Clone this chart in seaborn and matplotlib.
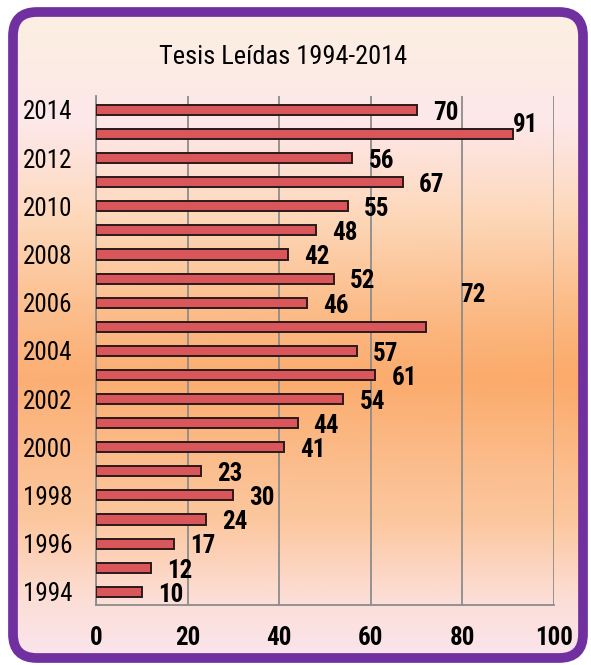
import numpy as np
import pandas as pd
import seaborn as sns
import matplotlib.pyplot as plt
from matplotlib.patches import FancyBboxPatch
from matplotlib import font_manager

# data
years = [2014, 2013, 2012, 2011, 2010, 2009, 2008, 2007, 2006, 2005, 2004,
         2003, 2002, 2001, 2000, 1999, 1998, 1997, 1996, 1995, 1994]
tesis = [70, 91, 56, 67, 55, 48, 42, 52, 46, 72, 57,
         61, 54, 44, 41, 23, 30, 24, 17, 12, 10]
x_ticks = [0, 20, 40, 60, 80, 100]
title = 'Tesis Leídas 1994-2014'

df = pd.DataFrame({'year': [str(y) for y in years], 'n': tesis})

sns.set_style('white')
names = {f.name for f in font_manager.fontManager.ttflist}
narrow = [n for n in ['Liberation Sans Narrow', 'Roboto Condensed', 'Open Sans Condensed']
          if n in names]
fam = narrow[:1] + ['Liberation Sans', 'DejaVu Sans']
plt.rcParams['font.family'] = fam
plt.rcParams['text.color'] = 'black'
plt.rcParams['xtick.color'] = 'black'
plt.rcParams['ytick.color'] = 'black'
big = 18 if narrow else 16

W, H = 591, 665
fig = plt.figure(figsize=(W / 100, H / 100), dpi=100)
fig.patch.set_facecolor('white')

# background panel with gradient and purple rounded frame
bg = fig.add_axes([0, 0, 1, 1], zorder=-5)
bg.set_xlim(0, W)
bg.set_ylim(H, 0)
bg.axis('off')
stops_y = np.array([0, 60, 120, 220, 380, 520, 600, 665]) / H
stops_c = np.array([
    [252, 240, 228], [252, 236, 228], [253, 232, 234], [253, 218, 190],
    [251, 182, 130], [252, 200, 160], [252, 222, 214], [250, 230, 240]]) / 255
t = np.linspace(0, 1, 300)
col = np.stack([np.interp(t, stops_y, stops_c[:, k]) for k in range(3)], axis=-1)
img = np.repeat(col[:, None, :], 50, axis=1)
xs = np.linspace(0, 1, 50)
warm = np.exp(-((t[:, None] - 0.52) / 0.18) ** 2) * (0.6 + 0.4 * xs[None, :])
img[:, :, 1] -= 0.05 * warm
img[:, :, 2] -= 0.10 * warm
img = np.clip(img, 0, 1)
box = dict(boxstyle='round,pad=0,rounding_size=24')
im = bg.imshow(img, extent=[0, W, H, 0], aspect='auto')
clip = FancyBboxPatch((13, 12), W - 21, H - 19, transform=bg.transData,
                      facecolor='none', edgecolor='none', **box)
bg.add_patch(clip)
im.set_clip_path(clip)
bg.add_patch(FancyBboxPatch((13, 12), W - 21, H - 19, facecolor='none',
                            edgecolor='#7030a0', linewidth=7, **box))

# main chart
ax = fig.add_axes([96 / W, 1 - 605 / H, (554 - 96) / W, (605 - 96) / H])
ax.patch.set_alpha(0)
sns.barplot(data=df, x='n', y='year', orient='h', color='#d9575a', saturation=1,
            edgecolor='#2b1a1a', linewidth=1.4, width=0.42, ax=ax, zorder=3)
ax.set_xlim(0, 100)
ax.set_ylim(20.55, -0.58)
ax.set_xticks(x_ticks)
ax.set_xticklabels([str(v) for v in x_ticks], fontsize=big, fontweight='bold')
ax.set_yticks(range(len(years)))
ax.set_yticklabels([str(y) if y % 2 == 0 else '' for y in years], fontsize=big)
ax.tick_params(axis='both', length=0)
ax.tick_params(axis='x', pad=15)
ax.tick_params(axis='y', pad=17)
ax.set_xlabel('')
ax.set_ylabel('')
ax.grid(axis='x', color='#8c8c8c', linewidth=1.3, zorder=1)
ax.set_axisbelow(True)
for s in ['top', 'right']:
    ax.spines[s].set_visible(False)
for s in ['left', 'bottom']:
    ax.spines[s].set_color('#8c8c8c')
    ax.spines[s].set_linewidth(1.3)

# value labels, two of them sit off their bars in the original
nudge = {91: (-3.5, -0.5), 72: (4.0, -1.45)}
for i, v in enumerate(tesis):
    dx, dy = nudge.get(v, (0, 0))
    ax.text(v + 3.5 + dx, i + 0.12 + dy, str(v), ha='left', va='center',
            fontsize=big, fontweight='bold', zorder=4)

fig.text(283 / W, 1 - 57 / H, title, ha='center', va='center', fontsize=big + 1)

fig.savefig('out.png', dpi=100)
